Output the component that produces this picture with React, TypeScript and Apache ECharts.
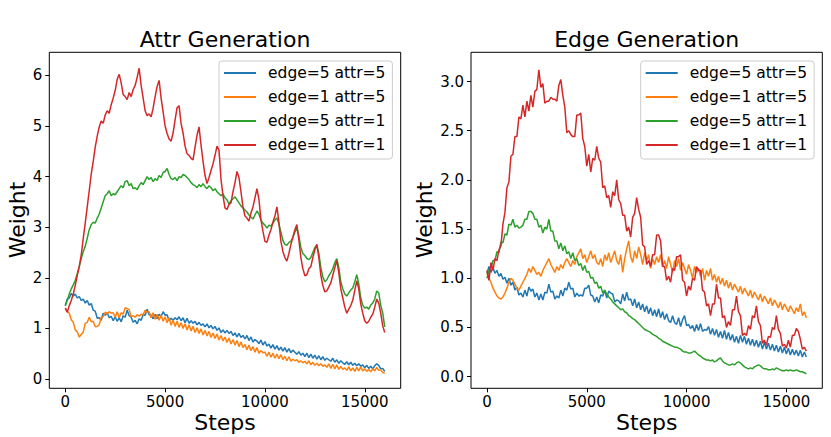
import React, { useEffect, useRef } from "react";
import * as echarts from "echarts";

const SERIES_NAMES = ["edge=5 attr=5", "edge=1 attr=5", "edge=5 attr=1", "edge=1 attr=1"];
const COLORS = ["#1f77b4", "#ff7f0e", "#2ca02c", "#d62728"];
const STEPS = Array.from({ length: 161 }, (_, i) => i * 100);
const X_TICKS = [0, 5000, 10000, 15000];
const ATTR_Y_TICKS = [0, 1, 2, 3, 4, 5, 6];
const EDGE_Y_TICKS = [0, 0.5, 1, 1.5, 2, 2.5, 3];

// Attr Generation
const attrE5A5 = [
  1.45, 1.58, 1.6, 1.69, 1.64, 1.68, 1.6, 1.63, 1.55, 1.58,
  1.5, 1.55, 1.46, 1.49, 1.36, 1.34, 1.2, 1.21, 1.16, 1.3,
  1.26, 1.31, 1.21, 1.24, 1.15, 1.23, 1.14, 1.21, 1.13, 1.25,
  1.22, 1.36, 1.25, 1.22, 1.12, 1.16, 1.09, 1.19, 1.16, 1.27,
  1.26, 1.38, 1.27, 1.26, 1.19, 1.28, 1.19, 1.28, 1.24, 1.33,
  1.26, 1.27, 1.15, 1.2, 1.16, 1.21, 1.17, 1.23, 1.15, 1.21,
  1.11, 1.2, 1.1, 1.15, 1.1, 1.14, 1.07, 1.12, 1.06, 1.09,
  1.03, 1.09, 1.01, 1.06, 0.99, 1.04, 0.96, 1.01, 0.92, 0.97,
  0.91, 0.96, 0.9, 0.94, 0.86, 0.91, 0.83, 0.9, 0.82, 0.86,
  0.79, 0.86, 0.76, 0.83, 0.73, 0.78, 0.75, 0.7, 0.77, 0.67,
  0.74, 0.65, 0.69, 0.61, 0.68, 0.59, 0.66, 0.57, 0.63, 0.55,
  0.62, 0.53, 0.6, 0.52, 0.57, 0.53, 0.49, 0.54, 0.47, 0.51,
  0.44, 0.51, 0.42, 0.49, 0.41, 0.47, 0.39, 0.46, 0.38, 0.44,
  0.37, 0.41, 0.38, 0.35, 0.41, 0.33, 0.38, 0.31, 0.36, 0.32,
  0.29, 0.34, 0.28, 0.33, 0.27, 0.31, 0.26, 0.3, 0.25, 0.28,
  0.22, 0.27, 0.21, 0.25, 0.2, 0.26, 0.3, 0.27, 0.2, 0.21,
  0.15,
];
const attrE1A5 = [
  1.4, 1.33, 1.3, 1.17, 1.12, 0.97, 0.93, 0.83, 0.88, 0.93,
  1.1, 1.12, 1.22, 1.13, 1.14, 1.03, 1.04, 1.07, 1.22, 1.23,
  1.32, 1.29, 1.33, 1.3, 1.31, 1.22, 1.33, 1.21, 1.31, 1.28,
  1.41, 1.39, 1.37, 1.23, 1.25, 1.22, 1.27, 1.24, 1.28, 1.27,
  1.36, 1.32, 1.33, 1.21, 1.31, 1.18, 1.28, 1.16, 1.26, 1.14,
  1.23, 1.11, 1.21, 1.06, 1.16, 1.04, 1.14, 1.02, 1.11, 1.0,
  1.09, 0.97, 1.07, 0.95, 1.04, 0.92, 1.01, 0.9, 0.99, 0.87,
  0.96, 0.85, 0.94, 0.82, 0.91, 0.8, 0.89, 0.77, 0.86, 0.75,
  0.83, 0.72, 0.81, 0.69, 0.78, 0.67, 0.76, 0.64, 0.73, 0.62,
  0.68, 0.58, 0.67, 0.56, 0.64, 0.53, 0.62, 0.51, 0.56, 0.52,
  0.53, 0.45, 0.53, 0.43, 0.51, 0.41, 0.49, 0.4, 0.48, 0.38,
  0.45, 0.36, 0.44, 0.35, 0.39, 0.36, 0.38, 0.33, 0.36, 0.32,
  0.35, 0.3, 0.36, 0.28, 0.33, 0.27, 0.31, 0.26, 0.3, 0.25,
  0.28, 0.23, 0.3, 0.21, 0.29, 0.2, 0.28, 0.19, 0.25, 0.19,
  0.22, 0.17, 0.24, 0.16, 0.22, 0.15, 0.23, 0.16, 0.24, 0.16,
  0.2, 0.15, 0.19, 0.14, 0.2, 0.16, 0.23, 0.17, 0.18, 0.13,
  0.12,
];
const attrE5A1 = [
  1.45, 1.55, 1.68, 1.78, 1.86, 1.95, 2.08, 2.22, 2.38, 2.52,
  2.62, 2.78, 2.95, 3.05, 3.1, 3.08, 3.18, 3.26, 3.38, 3.5,
  3.62, 3.66, 3.72, 3.62, 3.66, 3.64, 3.7, 3.76, 3.82, 3.78,
  3.9, 3.92, 3.82, 3.86, 3.76, 3.78, 3.74, 3.82, 3.88, 3.84,
  3.92, 4.0, 3.94, 3.98, 3.9, 3.96, 3.92, 4.02, 3.98, 4.08,
  4.1, 4.16, 4.04, 3.96, 3.94, 3.98, 3.92, 4.0, 3.98, 4.04,
  4.02, 3.98, 3.94, 3.88, 3.84, 3.82, 3.78, 3.84, 3.8, 3.86,
  3.8, 3.76, 3.82, 3.78, 3.72, 3.76, 3.7, 3.66, 3.62, 3.66,
  3.58, 3.54, 3.46, 3.52, 3.56, 3.6, 3.54, 3.48, 3.42, 3.38,
  3.34, 3.3, 3.24, 3.2, 3.16, 3.24, 3.32, 3.26, 3.14, 3.08,
  3.04, 2.98, 3.04, 3.02, 3.08, 3.14, 3.18, 3.06, 2.9, 2.74,
  2.66, 2.64, 2.7, 2.72, 2.8, 2.9, 2.98, 2.82, 2.6, 2.48,
  2.44, 2.38, 2.36, 2.4, 2.5, 2.6, 2.64, 2.48, 2.2, 2.02,
  1.92, 1.96, 2.04, 2.1, 2.18, 2.3, 2.38, 2.2, 1.92, 1.78,
  1.68, 1.64, 1.7, 1.76, 1.8, 1.92, 2.06, 1.88, 1.6, 1.46,
  1.4, 1.42, 1.38, 1.46, 1.5, 1.58, 1.74, 1.7, 1.46, 1.3,
  1.03,
];
const attrE1A1 = [
  1.4, 1.32, 1.45, 1.55, 1.68, 1.85, 2.05, 2.22, 2.45, 2.78,
  3.08, 3.4, 3.72, 4.05, 4.3, 4.58, 4.8, 4.98, 5.1, 5.05,
  5.22, 5.3, 5.25, 5.42, 5.55, 5.7, 5.92, 6.02, 5.85, 5.62,
  5.58, 5.52, 5.66, 5.58, 5.72, 5.8, 5.96, 6.14, 5.8, 5.55,
  5.3, 5.2, 5.24, 5.18, 5.35, 5.58, 5.78, 5.9, 5.55, 5.28,
  5.0, 4.85, 4.74, 4.7, 4.86, 5.12, 5.36, 5.4, 5.05, 4.86,
  4.6, 4.45, 4.42, 4.36, 4.33, 4.58, 4.82, 4.98, 4.62, 4.3,
  4.02, 3.86, 3.98, 4.12, 4.25, 4.42, 4.6, 4.52, 3.95, 3.62,
  3.38, 3.35, 3.45, 3.48, 3.7, 3.88, 4.1, 3.98, 3.7, 3.4,
  3.22, 3.18, 3.12, 3.28, 3.4, 3.58, 3.76, 3.55, 3.15, 2.92,
  2.72, 2.7, 2.84, 2.95, 3.1, 3.22, 3.4, 3.1, 2.72, 2.52,
  2.4, 2.33, 2.48, 2.66, 2.8, 2.95, 3.05, 2.75, 2.4, 2.18,
  2.04, 2.06, 2.18, 2.22, 2.4, 2.55, 2.66, 2.4, 2.05, 1.85,
  1.72, 1.74, 1.82, 1.9, 2.05, 2.2, 2.34, 2.1, 1.78, 1.6,
  1.42, 1.3, 1.38, 1.45, 1.56, 1.75, 1.94, 1.78, 1.48, 1.3,
  1.15, 1.1, 1.14, 1.22, 1.28, 1.42, 1.58, 1.5, 1.3, 1.05,
  0.92,
];

// Edge Generation
const edgeE5A5 = [
  1.05, 1.12, 1.06, 1.11, 1.05, 1.08, 1.02, 1.05, 0.99, 1.01,
  0.95, 1.0, 0.93, 0.96, 0.88, 0.91, 0.83, 0.85, 0.81, 0.88,
  0.82, 0.91, 0.87, 0.89, 0.81, 0.85, 0.78, 0.84, 0.78, 0.86,
  0.85, 0.94, 0.86, 0.87, 0.79, 0.82, 0.8, 0.88, 0.82, 0.9,
  0.88, 0.96, 0.89, 0.9, 0.81, 0.85, 0.82, 0.83, 0.82, 0.9,
  0.9, 0.93, 0.83, 0.82, 0.76, 0.81, 0.75, 0.83, 0.82, 0.88,
  0.8, 0.87, 0.85, 0.84, 0.76, 0.78, 0.77, 0.74, 0.84, 0.77,
  0.86, 0.78, 0.79, 0.72, 0.79, 0.7, 0.76, 0.68, 0.74, 0.66,
  0.72, 0.64, 0.7, 0.62, 0.68, 0.61, 0.69, 0.6, 0.66, 0.58,
  0.64, 0.57, 0.55, 0.62, 0.55, 0.53, 0.6, 0.51, 0.58, 0.62,
  0.52, 0.53, 0.49, 0.52, 0.46, 0.53, 0.47, 0.54, 0.46, 0.48,
  0.47, 0.51, 0.43, 0.49, 0.42, 0.48, 0.4, 0.46, 0.39, 0.47,
  0.38, 0.45, 0.37, 0.43, 0.35, 0.41, 0.34, 0.42, 0.35, 0.41,
  0.33, 0.39, 0.32, 0.38, 0.31, 0.37, 0.3, 0.36, 0.28, 0.35,
  0.28, 0.34, 0.27, 0.33, 0.26, 0.32, 0.25, 0.31, 0.24, 0.3,
  0.23, 0.29, 0.22, 0.28, 0.22, 0.27, 0.21, 0.27, 0.2, 0.25,
  0.2,
];
const edgeE1A5 = [
  1.05, 1.0, 0.96, 0.9, 0.86, 0.82, 0.8, 0.79, 0.81, 0.85,
  0.9, 0.96, 1.0, 0.98, 0.94, 0.9, 0.88, 0.92, 0.96, 1.0,
  1.04, 1.1, 1.06, 1.12, 1.08, 1.04, 1.06, 1.02, 1.08, 1.12,
  1.16, 1.2, 1.14, 1.1, 1.06, 1.12, 1.08, 1.14, 1.1, 1.16,
  1.2, 1.16, 1.12, 1.18, 1.14, 1.22, 1.26, 1.3, 1.2, 1.24,
  1.16, 1.22, 1.28, 1.2, 1.24, 1.16, 1.14, 1.2, 1.12, 1.24,
  1.18, 1.26, 1.16, 1.22, 1.28, 1.18, 1.14, 1.24, 1.06, 1.2,
  1.3, 1.38, 1.22, 1.16, 1.28, 1.2, 1.32, 1.24, 1.14, 1.26,
  1.18, 1.24, 1.1, 1.2, 1.14, 1.22, 1.16, 1.24, 1.12, 1.18,
  1.1, 1.22, 1.14, 1.06, 1.18, 1.12, 1.2, 1.08, 1.16, 1.1,
  1.04, 1.14, 1.08, 1.0, 1.12, 1.06, 1.1, 1.02, 1.1, 0.98,
  1.08, 1.02, 1.1, 0.98, 1.04, 0.96, 1.02, 0.94, 1.0, 0.92,
  0.98, 0.9, 0.96, 0.88, 0.94, 0.9, 0.86, 0.92, 0.84, 0.9,
  0.86, 0.82, 0.88, 0.8, 0.86, 0.82, 0.78, 0.84, 0.76, 0.82,
  0.78, 0.74, 0.8, 0.72, 0.78, 0.74, 0.7, 0.76, 0.68, 0.74,
  0.7, 0.66, 0.72, 0.68, 0.64, 0.7, 0.66, 0.74, 0.62, 0.66,
  0.6,
];
const edgeE5A1 = [
  1.0, 1.08, 1.1, 1.18, 1.18, 1.27, 1.26, 1.37, 1.36, 1.45,
  1.44, 1.55, 1.54, 1.6, 1.52, 1.54, 1.51, 1.52, 1.54, 1.6,
  1.6, 1.68, 1.68, 1.66, 1.6, 1.6, 1.52, 1.54, 1.46, 1.52,
  1.5, 1.6, 1.48, 1.48, 1.38, 1.38, 1.3, 1.36, 1.28, 1.33,
  1.25, 1.27, 1.2, 1.26, 1.18, 1.2, 1.13, 1.15, 1.08, 1.13,
  1.06, 1.07, 1.0, 1.01, 0.95, 0.96, 0.9, 0.92, 0.85, 0.88,
  0.84, 0.81, 0.79, 0.76, 0.74, 0.72, 0.7, 0.68, 0.69, 0.66,
  0.65, 0.62, 0.61, 0.59, 0.58, 0.56, 0.54, 0.52, 0.5, 0.48,
  0.47, 0.46, 0.45, 0.43, 0.42, 0.41, 0.39, 0.38, 0.36, 0.35,
  0.34, 0.33, 0.32, 0.31, 0.3, 0.3, 0.29, 0.28, 0.26, 0.25,
  0.25, 0.24, 0.24, 0.25, 0.26, 0.24, 0.22, 0.21, 0.19, 0.18,
  0.17, 0.17, 0.16, 0.17, 0.15, 0.16, 0.18, 0.19, 0.16, 0.14,
  0.13, 0.12, 0.12, 0.13, 0.12, 0.14, 0.15, 0.14, 0.12, 0.1,
  0.09, 0.08, 0.09, 0.08, 0.1, 0.11, 0.12, 0.11, 0.09, 0.08,
  0.08, 0.07, 0.07, 0.08, 0.07, 0.09, 0.08, 0.07, 0.06, 0.06,
  0.07, 0.06, 0.07, 0.06, 0.06, 0.07, 0.06, 0.05, 0.05, 0.04,
  0.03,
];
const edgeE1A1 = [
  1.08, 0.98, 1.16, 1.08, 1.2, 1.18, 1.29, 1.33, 1.55, 1.67,
  1.92, 1.98, 2.24, 2.26, 2.44, 2.44, 2.64, 2.62, 2.76, 2.64,
  2.8, 2.7, 2.86, 2.74, 2.9, 2.92, 3.12, 2.94, 2.98, 2.78,
  2.8, 2.8, 2.84, 2.82, 2.82, 2.8, 2.96, 3.02, 2.86, 2.74,
  2.48, 2.5, 2.46, 2.44, 2.44, 2.66, 2.66, 2.68, 2.42, 2.34,
  2.14, 2.26, 2.08, 2.22, 2.2, 2.34, 2.22, 2.18, 1.92, 1.94,
  1.82, 1.84, 1.72, 1.88, 1.84, 2.0, 1.8, 1.76, 1.64, 1.64,
  1.48, 1.52, 1.42, 1.62, 1.66, 1.82, 1.7, 1.62, 1.34, 1.32,
  1.14, 1.18, 1.12, 1.24, 1.24, 1.44, 1.44, 1.38, 1.12, 1.12,
  0.98, 1.02, 0.96, 1.1, 1.08, 1.22, 1.22, 1.24, 0.98, 0.96,
  0.82, 0.92, 0.88, 1.0, 0.98, 1.12, 1.08, 1.08, 0.88, 0.86,
  0.72, 0.74, 0.62, 0.74, 0.74, 0.94, 0.8, 0.8, 0.6, 0.62,
  0.5, 0.56, 0.52, 0.68, 0.68, 0.82, 0.66, 0.62, 0.42, 0.44,
  0.42, 0.52, 0.48, 0.62, 0.6, 0.72, 0.56, 0.52, 0.34, 0.37,
  0.32, 0.41, 0.4, 0.5, 0.48, 0.62, 0.48, 0.44, 0.31, 0.33,
  0.29, 0.37, 0.3, 0.42, 0.42, 0.49, 0.46, 0.38, 0.28, 0.3,
  0.26,
];

const ATTR_SERIES = [attrE5A5, attrE1A5, attrE5A1, attrE1A1];
const EDGE_SERIES = [edgeE5A5, edgeE1A5, edgeE5A1, edgeE1A1];

const FONT = "DejaVu Sans";

function makeAxes(gridIndex: number, yMin: number, yMax: number, yTicks: number[], fmt: (v: number) => string) {
  const x = {
    type: "value",
    gridIndex,
    min: -800,
    max: 16800,
    splitLine: { show: false },
    axisLine: { show: false, onZero: false },
    axisTick: { show: true, inside: false, length: 4, customValues: X_TICKS, lineStyle: { color: "#000", width: 1 } },
    axisLabel: { customValues: X_TICKS, color: "#000", fontSize: 15, fontFamily: FONT, margin: 6, formatter: (v: number) => String(v) },
  };
  const y = {
    type: "value",
    gridIndex,
    min: yMin,
    max: yMax,
    splitLine: { show: false },
    axisLine: { show: false, onZero: false },
    axisTick: { show: true, inside: false, length: 4, customValues: yTicks, lineStyle: { color: "#000", width: 1 } },
    axisLabel: { customValues: yTicks, color: "#000", fontSize: 15, fontFamily: FONT, margin: 7, formatter: (v: number) => fmt(v) },
  };
  return { x, y };
}

function legendAt(left: number) {
  return {
    orient: "vertical",
    left,
    top: 61,
    data: SERIES_NAMES,
    icon: "rect",
    itemWidth: 32,
    itemHeight: 2,
    itemGap: 8,
    padding: [4, 7, 6, 5],
    borderColor: "#cccccc",
    borderWidth: 1,
    borderRadius: 3,
    backgroundColor: "rgba(255,255,255,0.8)",
    selectedMode: false,
    textStyle: { fontSize: 15.5, fontFamily: FONT, color: "#000", padding: [0, 0, 0, 7] },
  };
}

export default function App() {
  const ref = useRef<HTMLDivElement>(null);
  useEffect(() => {
    if (!ref.current) return;
    const chart = echarts.init(ref.current, null, { renderer: "svg" });
    const a = makeAxes(0, -0.184, 6.455, ATTR_Y_TICKS, (v) => String(v));
    const e = makeAxes(1, -0.118, 3.297, EDGE_Y_TICKS, (v) => v.toFixed(1));
    const series: any[] = [];
    const addSeries = (list: number[][], axisIndex: number) => {
      list.forEach((arr, k) => {
        series.push({
          type: "line",
          name: SERIES_NAMES[k],
          xAxisIndex: axisIndex,
          yAxisIndex: axisIndex,
          data: STEPS.map((s, i) => [s, arr[i]]),
          showSymbol: false,
          symbol: "none",
          lineStyle: { color: COLORS[k], width: 1.5 },
          itemStyle: { color: COLORS[k] },
          z: 2 + k,
        });
      });
    };
    addSeries(ATTR_SERIES, 0);
    addSeries(EDGE_SERIES, 1);
    const txt = (text: string, x: number, y: number, size: number, rotation = 0) => ({
      type: "text",
      x,
      y,
      rotation,
      style: { text, fontSize: size, fontFamily: FONT, fill: "#000", align: "center", verticalAlign: "middle" },
    });
    chart.setOption({
      animation: false,
      backgroundColor: "#fff",
      grid: [
        { left: 49.3, top: 52.3, width: 351.4, height: 336, show: true, borderColor: "#000", borderWidth: 1, backgroundColor: "transparent" },
        { left: 471, top: 52.3, width: 351.3, height: 336, show: true, borderColor: "#000", borderWidth: 1, backgroundColor: "transparent" },
      ],
      xAxis: [a.x, e.x],
      yAxis: [a.y, e.y],
      legend: [legendAt(219), legendAt(640.7)],
      series,
      graphic: [
        txt("Attr Generation", 225, 39.5, 22),
        txt("Edge Generation", 646.7, 39.5, 22),
        txt("Steps", 225, 422, 22),
        txt("Steps", 646.7, 422, 22),
        txt("Weight", 17.3, 220, 22, Math.PI / 2),
        txt("Weight", 424.3, 220, 22, Math.PI / 2),
      ],
    });
    return () => chart.dispose();
  }, []);
  return (
    <div
      ref={ref}
      style={{ position: "fixed", left: 0, top: 0, width: 831, height: 437, background: "#fff" }}
    />
  );
}
